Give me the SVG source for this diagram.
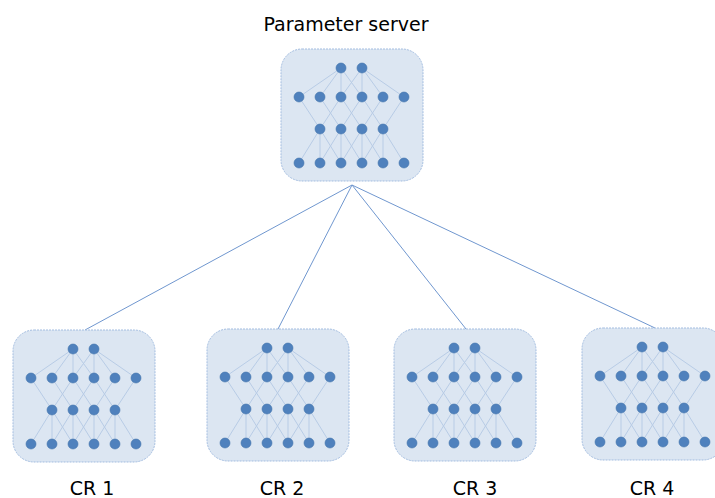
<svg xmlns="http://www.w3.org/2000/svg" xmlns:xlink="http://www.w3.org/1999/xlink" width="715" height="498" viewBox="0 0 715 498">
<style>
.box{fill:#dce6f2;stroke:#a3bde0;stroke-width:1;stroke-dasharray:2,1}
.e{stroke:#b8cce6;stroke-width:1;fill:none}
.n{fill:#4f81bd;stroke:#4373ab;stroke-width:0.6}
.conn{stroke:#7097cf;stroke-width:1;fill:none}
.lbl{font-family:"DejaVu Sans","Verdana",sans-serif;font-size:19px;fill:#000}
</style>
<defs>
<g id="net">
<rect class="box" x="0" y="0" width="142" height="132" rx="21" ry="21"/>
<g class="e">
<path d="M60 19L18 48M60 19L39 48M60 19L60 48M60 19L81 48"/>
<path d="M81 19L60 48M81 19L81 48M81 19L102 48M81 19L123 48"/>
<path d="M18 48L39 80M39 48L60 80M60 48L39 80M60 48L81 80M81 48L60 80M81 48L102 80M102 48L81 80M123 48L102 80"/>
<path d="M39 80L18 114M39 80L39 114M39 80L60 114M60 80L39 114M60 80L60 114M60 80L81 114M81 80L60 114M81 80L81 114M81 80L102 114M102 80L81 114M102 80L102 114M102 80L123 114"/>
</g>
<g>
<circle class="n" cx="60" cy="19" r="5"/><circle class="n" cx="81" cy="19" r="5"/>
<circle class="n" cx="18" cy="48" r="5"/><circle class="n" cx="39" cy="48" r="5"/><circle class="n" cx="60" cy="48" r="5"/><circle class="n" cx="81" cy="48" r="5"/><circle class="n" cx="102" cy="48" r="5"/><circle class="n" cx="123" cy="48" r="5"/>
<circle class="n" cx="39" cy="80" r="5"/><circle class="n" cx="60" cy="80" r="5"/><circle class="n" cx="81" cy="80" r="5"/><circle class="n" cx="102" cy="80" r="5"/>
<circle class="n" cx="18" cy="114" r="5"/><circle class="n" cx="39" cy="114" r="5"/><circle class="n" cx="60" cy="114" r="5"/><circle class="n" cx="81" cy="114" r="5"/><circle class="n" cx="102" cy="114" r="5"/><circle class="n" cx="123" cy="114" r="5"/>
</g>
</g>
</defs>
<rect width="715" height="498" fill="#ffffff"/>
<g id="connectors">
<line class="conn" x1="352" y1="185" x2="85" y2="330"/>
<line class="conn" x1="352" y1="185" x2="278" y2="329"/>
<line class="conn" x1="352" y1="185" x2="466" y2="329"/>
<line class="conn" x1="352" y1="185" x2="655" y2="328"/>
</g>
<g id="parameter-server">
<use xlink:href="#net" href="#net" transform="translate(281,49)"/>
<text class="lbl" x="346" y="31" text-anchor="middle">Parameter server</text>
</g>
<g id="cr1">
<use xlink:href="#net" href="#net" transform="translate(13,330)"/>
<text class="lbl" x="92" y="495" text-anchor="middle">CR 1</text>
</g>
<g id="cr2">
<use xlink:href="#net" href="#net" transform="translate(207,329)"/>
<text class="lbl" x="282" y="495" text-anchor="middle">CR 2</text>
</g>
<g id="cr3">
<use xlink:href="#net" href="#net" transform="translate(394,329)"/>
<text class="lbl" x="475" y="495" text-anchor="middle">CR 3</text>
</g>
<g id="cr4">
<use xlink:href="#net" href="#net" transform="translate(582,328)"/>
<text class="lbl" x="652" y="495" text-anchor="middle">CR 4</text>
</g>
</svg>
